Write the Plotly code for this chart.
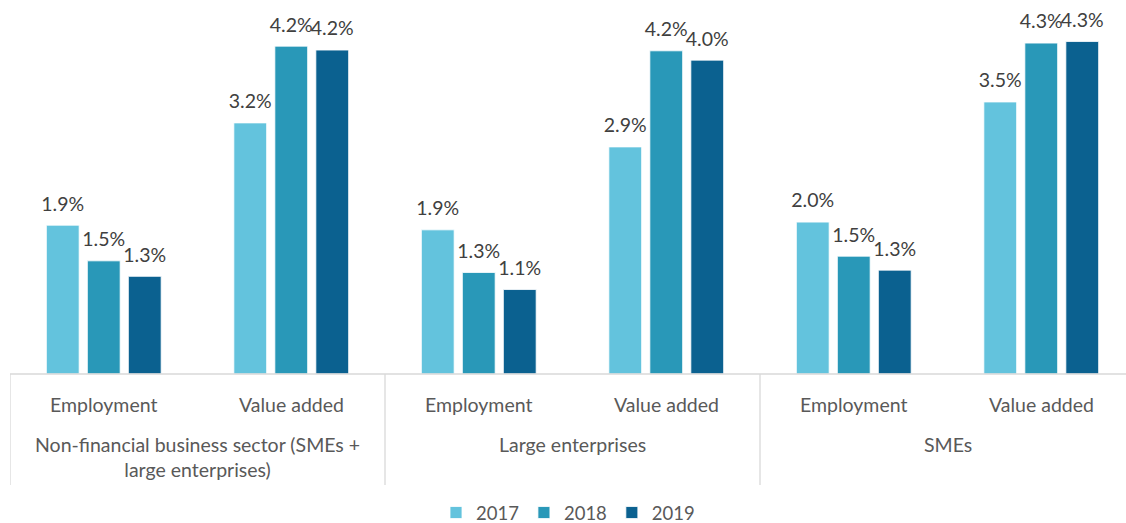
import plotly.graph_objects as go

groups = ["Non-financial business sector (SMEs +<br>large enterprises)", "Large enterprises", "SMEs"]
measures = ["Employment", "Value added"]
years = ["2017", "2018", "2019"]
v2017 = [1.92, 3.24, 1.86, 2.93, 1.96, 3.51]
v2018 = [1.46, 4.23, 1.31, 4.17, 1.52, 4.27]
v2019 = [1.26, 4.18, 1.09, 4.05, 1.34, 4.29]
colors = ["#63C3DD", "#2998B8", "#0B6190"]

series = [v2017, v2018, v2019]
xpos = list(range(len(groups) * len(measures)))

FONT = "Lato"
TXT = "#404040"
LBL = "#595959"
FS = 19.5
fig = go.Figure()
for yr, vals, col in zip(years, series, colors):
    fig.add_trace(go.Bar(
        x=xpos, y=vals, name=yr, offsetgroup=yr,
        marker=dict(color=col, line=dict(color="#ffffff", width=0.8)),
        hoverinfo="skip",
    ))
for yr, vals in zip(years, series):
    fig.add_trace(go.Scatter(
        x=xpos, y=vals, offsetgroup=yr, mode="markers+text", showlegend=False,
        text=[f"{v:.1f}%" for v in vals], textposition="top center",
        marker=dict(size=14, opacity=0), cliponaxis=False, hoverinfo="skip",
        textfont=dict(family=FONT, size=FS, color=TXT),
    ))

H = 374.0
ann = []
for i, x in enumerate(xpos):
    ann.append(dict(x=x, xref="x", y=-(404 - 374) / H, yref="paper", yanchor="middle",
                    text=measures[i % 2], showarrow=False,
                    font=dict(family=FONT, size=FS, color=LBL)))
for g, name in enumerate(groups):
    ann.append(dict(x=g * 2 + 0.5, xref="x", y=-(431 - 374) / H, yref="paper", yanchor="top",
                    text=name, showarrow=False,
                    font=dict(family=FONT, size=FS, color=LBL)))

shapes = [dict(type="line", xref="x", yref="paper", x0=-0.5, x1=5.5, y0=0, y1=0,
               line=dict(color="#D9D9D9", width=1.3))]
for b in [-0.5, 1.5, 3.5, 5.5]:
    shapes.append(dict(type="line", xref="x", yref="paper", x0=b, x1=b, y0=0, y1=-(485 - 374) / H,
                       line=dict(color="#D9D9D9", width=1.3)))

fig.update_layout(
    width=1126, height=523,
    margin=dict(l=10, r=0, t=0, b=523 - 374, autoexpand=False),
    paper_bgcolor="white", plot_bgcolor="white",
    barmode="group", bargap=0.344, bargroupgap=0.2,
    scattermode="group", scattergap=0.344,
    xaxis=dict(range=[-0.5, -0.5 + 1116 / 187.5], showticklabels=False, showgrid=False,
               zeroline=False, showline=False, ticks=""),
    yaxis=dict(range=[0, 374 / 77.5], visible=False),
    showlegend=True,
    legend=dict(orientation="h", x=0.5, xanchor="center", y=-(513 - 374) / H, yanchor="middle",
                font=dict(family=FONT, size=18.5, color=LBL), itemwidth=30, traceorder="normal"),
    annotations=ann, shapes=shapes,
    font=dict(family=FONT),
)
fig.write_html("out.html", config={"displayModeBar": False},
               post_script="document.body.style.margin='0';document.body.style.overflow='hidden';")
